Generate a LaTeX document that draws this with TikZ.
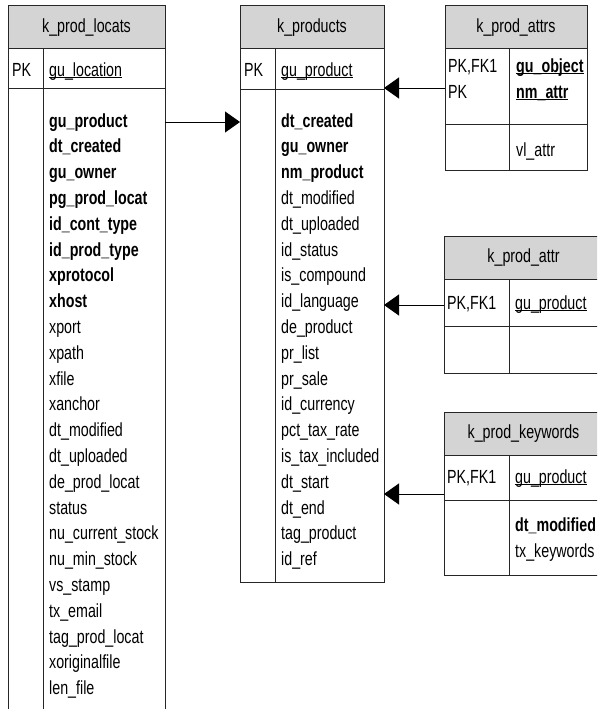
\documentclass[tikz,border=0pt]{standalone}
\usepackage{fontspec}
\setmainfont{Liberation Sans}[FakeStretch=0.75]
\usetikzlibrary{arrows.meta}
\newcommand\ulin[1]{\setbox0\hbox{#1}\rlap{\rule[-1.6pt]{\wd0}{0.9pt}}\box0}
\begin{document}
\begin{tikzpicture}[x=1pt,y=-1pt,
  frame/.style={draw=black!85, line width=1pt, anchor=north west, inner sep=0pt, outer sep=0pt},
  hdr/.style={fill=black!17},
  sep/.style={draw=black!85, line width=1pt},
  fld/.style={anchor=base west, inner sep=0pt, font=\fontsize{19}{23}\selectfont},
  ttl/.style={anchor=center, inner sep=0pt, font=\fontsize{19}{23}\selectfont},
  arr/.style={draw=black, line width=1pt, -{Triangle[length=15pt,width=21pt]}}]
\useasboundingbox (0,0) rectangle (597,709);
\clip (0,0) rectangle (597,709);

% ---------- k_prod_locats ----------
\fill[hdr] (8,6) rectangle (165,49);
\node[frame, minimum width=157pt, minimum height=760pt] (locats) at (8,6) {};
\draw[sep] (8,49) -- (165,49) (8,88) -- (165,88) (43,49) -- (43,770);
\node[ttl] (locatsT) at (86.5,27.5) {k\_prod\_locats};
\node[fld] (locatsPK) at (12,76) {PK};
\node[fld] (locatsK) at (49,76) {\ulin{gu\_location}};
\foreach \t [count=\i from 0] in {{\bfseries gu\_product},{\bfseries dt\_created},{\bfseries gu\_owner},{\bfseries pg\_prod\_locat},{\bfseries id\_cont\_type},{\bfseries id\_prod\_type},{\bfseries xprotocol},{\bfseries xhost},xport,xpath,xfile,xanchor,dt\_modified,dt\_uploaded,de\_prod\_locat,status,nu\_current\_stock,nu\_min\_stock,vs\_stamp,tx\_email,tag\_prod\_locat,xoriginalfile,len\_file}
  \node[fld] (locatsF\i) at (49,127+25.8*\i) {\t};

% ---------- k_products ----------
\fill[hdr] (240,6) rectangle (384,49);
\node[frame, minimum width=144pt, minimum height=576pt] (products) at (240,6) {};
\draw[sep] (240,49) -- (384,49) (240,89) -- (384,89) (275,49) -- (275,582);
\node[ttl] (productsT) at (312,27.5) {k\_products};
\node[fld] (productsPK) at (244,76.5) {PK};
\node[fld] (productsK) at (281,76.5) {\ulin{gu\_product}};
\foreach \t [count=\i from 0] in {{\bfseries dt\_created},{\bfseries gu\_owner},{\bfseries nm\_product},dt\_modified,dt\_uploaded,id\_status,is\_compound,id\_language,de\_product,pr\_list,pr\_sale,id\_currency,pct\_tax\_rate,is\_tax\_included,dt\_start,dt\_end,tag\_product,id\_ref}
  \node[fld] (productsF\i) at (281,127+25.8*\i) {\t};

% ---------- k_prod_attrs ----------
\fill[hdr] (445,6) rectangle (587,49);
\node[frame, minimum width=142pt, minimum height=164pt] (attrs) at (445,6) {};
\draw[sep] (445,49) -- (587,49) (445,124) -- (587,124) (509,49) -- (509,170);
\node[ttl] (attrsT) at (516,27.5) {k\_prod\_attrs};
\node[fld] (attrsPK1) at (448,72) {PK,FK1};
\node[fld] (attrsPK2) at (448,98) {PK};
\node[fld] (attrsK1) at (516,72) {\ulin{\bfseries gu\_object}};
\node[fld] (attrsK2) at (516,98) {\ulin{\bfseries nm\_attr}};
\node[fld] (attrsF0) at (516,156) {vl\_attr};

% ---------- k_prod_attr ----------
\fill[hdr] (444,236) rectangle (603,279);
\node[frame, minimum width=159pt, minimum height=137pt] (attr) at (444,236) {};
\draw[sep] (444,279) -- (603,279) (444,326) -- (603,326) (509,279) -- (509,373);
\node[ttl] (attrT) at (523.5,257.5) {k\_prod\_attr};
\node[fld] (attrPK) at (447,309.5) {PK,FK1};
\node[fld] (attrK) at (515,309.5) {\ulin{gu\_product}};

% ---------- k_prod_keywords ----------
\fill[hdr] (444,412) rectangle (603,455);
\node[frame, minimum width=159pt, minimum height=163pt] (keywords) at (444,412) {};
\draw[sep] (444,455) -- (603,455) (444,500) -- (603,500) (509,455) -- (509,575);
\node[ttl] (keywordsT) at (523.5,433.5) {k\_prod\_keywords};
\node[fld] (keywordsPK) at (447,483) {PK,FK1};
\node[fld] (keywordsK) at (515,483) {\ulin{gu\_product}};
\node[fld] (keywordsF0) at (515,531) {\bfseries dt\_modified};
\node[fld] (keywordsF1) at (515,557) {tx\_keywords};

% ---------- connectors ----------
\coordinate (ya) at (0,122);
\coordinate (yb) at (0,88);
\coordinate (yc) at (0,305);
\coordinate (yd) at (0,494);
\draw[arr] (locats.east |- ya) -- (products.west |- ya);
\draw[arr] (attrs.west |- yb) -- (products.east |- yb);
\draw[arr] (attr.west |- yc) -- (products.east |- yc);
\draw[arr] (keywords.west |- yd) -- (products.east |- yd);
\end{tikzpicture}
\end{document}
